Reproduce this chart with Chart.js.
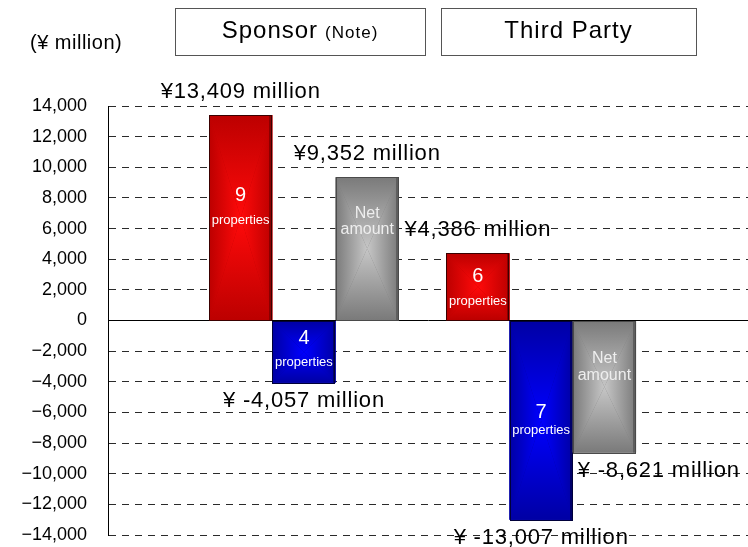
<!DOCTYPE html>
<html>
<head>
<meta charset="utf-8">
<script src="https://cdn.jsdelivr.net/npm/chart.js@4/dist/chart.umd.min.js"></script>
<style>
html,body{margin:0;padding:0;background:#fff;}
#wrap{width:748px;height:547px;position:relative;}
</style>
</head>
<body>
<div id="wrap"><canvas id="c" width="748" height="547"></canvas></div>
<script>
// ---- data ----
const groups = ['Sponsor', 'Third Party'];
const groupNotes = ['(Note)', ''];
const acquired = [13409, 4386];
const disposed = [-4057, -13007];
const netAmount = [9352, -8621];
const acquiredCount = [9, 6];
const disposedCount = [4, 7];
const yTickValues = [-14000, -12000, -10000, -8000, -6000, -4000, -2000, 0, 2000, 4000, 6000, 8000, 10000, 12000, 14000];
const unitLabel = '(¥ million)';

// ---- styles / layout ----
const FONT = "'Liberation Sans', Arial, sans-serif";
const palettes = [
  {center: '#ff0a0a', edge: '#bc0000', border: '#3a0000', side: '#8a0000'},
  {center: '#0000ff', edge: '#0000a4', border: '#00003a', side: '#00006a'},
  {center: '#c6c6c6', edge: '#7a7a7a', border: '#4a4a4a', side: '#5e5e5e'}
];
// inner label vertical offsets (px from bar middle): [line1, line2] per dataset per group
const innerLine1 = [[-22, -10], [-13, -8], [-35, -28]];
const innerLine2 = [[3, 15], [11, 10], [-19, -11]];
const headerBoxes = [
  {x: 175, y: 8, w: 250, h: 47},
  {x: 441, y: 8, w: 255, h: 47}
];

const fmt = v => Math.abs(v).toLocaleString('en-US');
const valueText = v => v >= 0 ? '¥' + fmt(v) + ' million' : '¥ -' + fmt(v) + ' million';

function setSpacing(ctx, s) { if ('letterSpacing' in ctx) ctx.letterSpacing = s; }

const gradientBars = {
  id: 'gradientBars',
  afterDatasetsDraw(chart) {
    const ctx = chart.ctx;
    chart.data.datasets.forEach((ds, di) => {
      const meta = chart.getDatasetMeta(di);
      const pal = palettes[di];
      meta.data.forEach(el => {
        const p = el.getProps(['x', 'y', 'base', 'width'], true);
        const l = p.x - p.width / 2, r = p.x + p.width / 2;
        const t = Math.min(p.y, p.base), b = Math.max(p.y, p.base);
        const cx = (l + r) / 2, cy = (t + b) / 2;
        const tris = [
          [[l, t], [r, t], [cx, t]],
          [[l, b], [r, b], [cx, b]],
          [[l, t], [l, b], [l, cy]],
          [[r, t], [r, b], [r, cy]]
        ];
        ctx.save();
        ctx.fillStyle = pal.edge;
        ctx.fillRect(l, t, r - l, b - t);
        tris.forEach(tr => {
          const g = ctx.createLinearGradient(cx, cy, tr[2][0], tr[2][1]);
          g.addColorStop(0, pal.center);
          g.addColorStop(1, pal.edge);
          ctx.fillStyle = g;
          ctx.beginPath();
          ctx.moveTo(cx, cy);
          ctx.lineTo(tr[0][0], tr[0][1]);
          ctx.lineTo(tr[1][0], tr[1][1]);
          ctx.closePath();
          ctx.fill();
        });
        // right side shade
        ctx.fillStyle = pal.side;
        ctx.fillRect(Math.round(r) - 3, t, 2, b - t);
        ctx.strokeStyle = pal.border;
        ctx.lineWidth = 1;
        ctx.strokeRect(Math.round(l) + 0.5, Math.round(t) + 0.5, Math.round(r - l) - 1, Math.round(b - t));
        ctx.restore();
      });
    });
  },
  afterDraw(chart) {
    const ctx = chart.ctx;
    ctx.save();
    // unit label
    ctx.fillStyle = '#000';
    ctx.textBaseline = 'alphabetic';
    ctx.textAlign = 'left';
    ctx.font = '20px ' + FONT;
    setSpacing(ctx, '0.5px');
    ctx.fillText(unitLabel, 30, 49);

    // header boxes
    groups.forEach((g, i) => {
      const hb = headerBoxes[i];
      ctx.fillStyle = '#fff';
      ctx.fillRect(hb.x, hb.y, hb.w, hb.h);
      ctx.strokeStyle = '#555';
      ctx.lineWidth = 1;
      ctx.strokeRect(hb.x + 0.5, hb.y + 0.5, hb.w, hb.h);
      ctx.fillStyle = '#000';
      setSpacing(ctx, '1px');
      ctx.font = '24px ' + FONT;
      const w1 = ctx.measureText(g).width;
      let w2 = 0, gap = 0;
      if (groupNotes[i]) {
        ctx.font = '17px ' + FONT;
        w2 = ctx.measureText(groupNotes[i]).width;
        gap = 7;
      }
      const start = hb.x + hb.w / 2 - (w1 + gap + w2) / 2;
      ctx.textAlign = 'left';
      ctx.font = '24px ' + FONT;
      ctx.fillText(g, start, 38);
      if (groupNotes[i]) {
        ctx.font = '17px ' + FONT;
        ctx.fillText(groupNotes[i], start + w1 + gap, 38);
      }
    });

    // value labels & inner labels
    const series = chart.data.datasets;
    series.forEach((ds, di) => {
      const meta = chart.getDatasetMeta(di);
      meta.data.forEach((el, gi) => {
        const v = ds.data[gi].y;
        const p = el.getProps(['x', 'y', 'base', 'width'], true);
        const l = p.x - p.width / 2;
        const t = Math.min(p.y, p.base), b = Math.max(p.y, p.base);
        const mid = (t + b) / 2;
        // value label outside
        ctx.fillStyle = '#000';
        ctx.font = '22px ' + FONT;
        setSpacing(ctx, '0.8px');
        ctx.textBaseline = 'alphabetic';
        const txt = valueText(v);
        const leftAligned = (di === 2 && v < 0);
        ctx.textAlign = leftAligned ? 'left' : 'center';
        const lx = leftAligned ? l + 5 : p.x;
        const ly = v >= 0 ? t - 17 : b + 24;
        ctx.fillText(txt, lx, ly);
        // inner labels
        setSpacing(ctx, '0px');
        ctx.textAlign = 'center';
        ctx.textBaseline = 'middle';
        let line1, line2, f1, f2, col;
        if (di === 0) { line1 = String(acquiredCount[gi]); line2 = 'properties'; f1 = '20px '; f2 = '13px '; col = '#fff'; }
        else if (di === 1) { line1 = String(disposedCount[gi]); line2 = 'properties'; f1 = '20px '; f2 = '13px '; col = '#fff'; }
        else { line1 = 'Net'; line2 = 'amount'; f1 = '16px '; f2 = '16px '; col = '#eeeeee'; }
        ctx.fillStyle = col;
        ctx.font = f1 + FONT;
        ctx.fillText(line1, p.x, mid + innerLine1[di][gi]);
        ctx.font = f2 + FONT;
        ctx.fillText(line2, p.x, mid + innerLine2[di][gi]);
      });
    });
    ctx.restore();
  }
};

const toPoints = arr => arr.map((v, i) => ({x: i, y: v}));

new Chart(document.getElementById('c'), {
  type: 'bar',
  data: {
    datasets: [
      {label: 'Acquired', data: toPoints(acquired), backgroundColor: palettes[0].edge, borderWidth: 0},
      {label: 'Disposed', data: toPoints(disposed), backgroundColor: palettes[1].edge, borderWidth: 0},
      {label: 'Net amount', data: toPoints(netAmount), backgroundColor: palettes[2].edge, borderWidth: 0}
    ]
  },
  options: {
    responsive: false,
    devicePixelRatio: 1,
    animation: false,
    datasets: {bar: {categoryPercentage: 0.8, barPercentage: 1}},
    layout: {padding: {top: 106, bottom: 12, left: 0, right: 0}},
    plugins: {legend: {display: false}, tooltip: {enabled: false}},
    scales: {
      x: {
        type: 'linear',
        display: false,
        offset: false,
        grid: {offset: false},
        min: -0.826,
        max: 1.872,
        afterBuildTicks: s => { s.ticks = groups.map((g, i) => ({value: i})); }
      },
      y: {
        min: -14000,
        max: 14000,
        afterBuildTicks: s => { s.ticks = yTickValues.map(v => ({value: v})); },
        afterFit: s => { s.width = 108; s.paddingTop = 0; s.paddingBottom = 0; },
        ticks: {
          color: '#000',
          padding: 0,
          font: {family: FONT, size: 18},
          callback: v => (v < 0 ? '\u2212' : '') + Math.abs(v).toLocaleString('en-US')
        },
        grid: {
          drawTicks: true,
          tickLength: 21,
          tickColor: 'rgba(0,0,0,0)',
          lineWidth: 1,
          color: c => (c.tick && c.tick.value === 0) ? '#000' : '#2a2a2a'
        },
        border: {
          display: true,
          color: '#000',
          width: 1,
          dash: c => (c.tick && c.tick.value === 0) ? [] : [7, 6]
        }
      }
    }
  },
  plugins: [gradientBars]
});
</script>
</body>
</html>
